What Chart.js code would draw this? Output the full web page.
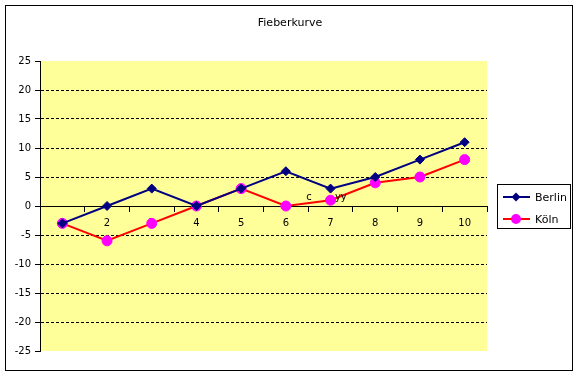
<!DOCTYPE html>
<html>
<head>
<meta charset="utf-8">
<script src="https://cdn.jsdelivr.net/npm/chart.js@4/dist/chart.umd.min.js"></script>
<style>
  html, body { margin: 0; padding: 0; background: #fff; }
  #wrap { width: 580px; height: 376px; }
</style>
</head>
<body>
<div id="wrap"><canvas id="chart" width="580" height="376"></canvas></div>
<script>
const chartTitle = 'Fieberkurve';
const days = ['1', '2', '3', '4', '5', '6', '7', '8', '9', '10'];
const berlin = [-3, 0, 3, 0, 3, 6, 3, 5, 8, 11];
const koeln = [-3, -6, -3, 0, 3, 0, 1, 4, 5, 8];
const yMin = -25;
const yMax = 25;
const yStep = 5;
// stray text bits that sit inside the plot (category index, value)
const strayNotes = [
  { text: 'c', x: 5.52, y: 1.5 },
  { text: 'yy', x: 6.23, y: 1.4 }
];

const font = 'DejaVu Sans';

function marker(ctx, style, x, y, r, color) {
  ctx.fillStyle = color;
  ctx.beginPath();
  if (style === 'rectRot') {
    ctx.moveTo(x, y - r);
    ctx.lineTo(x + r, y);
    ctx.lineTo(x, y + r);
    ctx.lineTo(x - r, y);
    ctx.closePath();
  } else {
    ctx.arc(x, y, r, 0, Math.PI * 2);
  }
  ctx.fill();
}

const excelLook = {
  id: 'excelLook',
  beforeDraw(chart) {
    const { ctx, chartArea: a } = chart;
    ctx.save();
    ctx.fillStyle = '#fff';
    ctx.fillRect(0, 0, chart.width, chart.height);
    ctx.fillStyle = '#ffff99';
    ctx.fillRect(a.left, a.top, a.right - a.left, a.bottom - a.top);
    ctx.strokeStyle = '#000';
    ctx.lineWidth = 1;
    ctx.strokeRect(5.5, 5.5, 567, 365);
    ctx.restore();
  },
  afterDraw(chart) {
    const { ctx, scales } = chart;
    ctx.save();
    // title, centred over the whole chart frame like Excel does
    ctx.fillStyle = '#000';
    ctx.font = '11px "' + font + '"';
    ctx.textAlign = 'center';
    ctx.textBaseline = 'middle';
    ctx.fillText(chartTitle, 290, 23);

    // stray notes
    ctx.font = '10px "' + font + '"';
    strayNotes.forEach(n => {
      ctx.fillText(n.text, scales.x.getPixelForValue(n.x), scales.y.getPixelForValue(n.y));
    });

    // legend
    const bx = 497.5, by = 184.5, bw = 73, bh = 44;
    ctx.fillStyle = '#fff';
    ctx.fillRect(bx, by, bw, bh);
    ctx.strokeStyle = '#000';
    ctx.lineWidth = 1;
    ctx.strokeRect(bx, by, bw, bh);
    ctx.font = '11px "' + font + '"';
    ctx.textAlign = 'left';
    chart.data.datasets.forEach((ds, i) => {
      const y = 197 + i * 22;
      ctx.strokeStyle = ds.borderColor;
      ctx.lineWidth = 2;
      ctx.beginPath();
      ctx.moveTo(503, y);
      ctx.lineTo(530, y);
      ctx.stroke();
      marker(ctx, ds.pointStyle, 516, y, ds.pointRadius, ds.pointBackgroundColor);
      ctx.fillStyle = '#000';
      ctx.fillText(ds.label, 535, y + 1);
    });
    ctx.restore();
  }
};

new Chart(document.getElementById('chart'), {
  type: 'line',
  data: {
    labels: days,
    datasets: [
      {
        label: 'Berlin',
        data: berlin,
        borderColor: '#000080',
        borderWidth: 2,
        pointStyle: 'rectRot',
        pointRadius: 4.5,
        pointBackgroundColor: '#000080',
        pointBorderColor: '#000080',
        pointBorderWidth: 1,
        tension: 0
      },
      {
        label: 'Köln',
        data: koeln,
        borderColor: '#ff0000',
        borderWidth: 2,
        pointStyle: 'circle',
        pointRadius: 5,
        pointBackgroundColor: '#ff00ff',
        pointBorderColor: '#ff00ff',
        pointBorderWidth: 1,
        tension: 0
      }
    ]
  },
  options: {
    responsive: false,
    animation: false,
    layout: { padding: { left: 0, top: 61, right: 93, bottom: 25 } },
    plugins: {
      legend: { display: false },
      title: { display: false },
      tooltip: { enabled: false }
    },
    scales: {
      x: {
        type: 'category',
        position: { y: 0 },
        offset: true,
        grid: {
          offset: true,
          drawOnChartArea: false,
          drawTicks: true,
          tickLength: 5,
          tickColor: '#000'
        },
        border: { display: true, color: '#000', width: 1 },
        ticks: {
          color: '#000',
          font: { family: font, size: 10 },
          padding: 6,
          maxRotation: 0,
          autoSkip: false
        }
      },
      y: {
        min: yMin,
        max: yMax,
        afterFit: s => { s.width = 40; },
        ticks: {
          stepSize: yStep,
          color: '#000',
          font: { family: font, size: 10 },
          padding: 4
        },
        grid: {
          color: c => (c.tick && (c.tick.value === 0 || c.tick.value === yMin || c.tick.value === yMax)) ? 'rgba(0,0,0,0)' : '#000',
          tickColor: '#000',
          tickLength: 5,
          lineWidth: 1
        },
        border: { display: true, color: '#000', width: 1, dash: [3, 2] }
      }
    }
  },
  plugins: [excelLook]
});
</script>
</body>
</html>
